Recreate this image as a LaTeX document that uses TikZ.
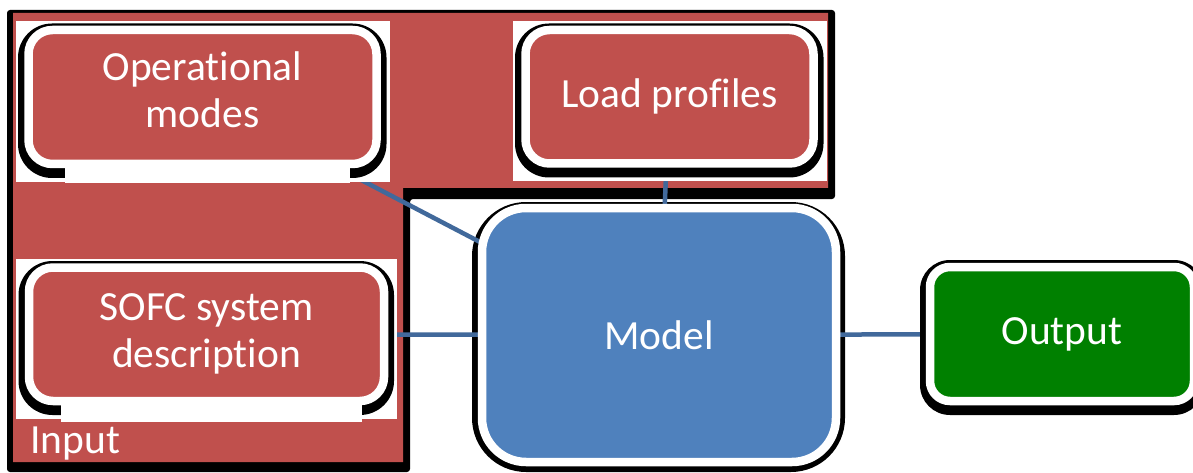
\documentclass[tikz,border=0pt]{standalone}
\usepackage{fontspec}
\setmainfont[Ligatures={NoCommon}]{Carlito}
\usetikzlibrary{calc}

\definecolor{inred}{RGB}{192,80,77}
\definecolor{modelblue}{RGB}{79,129,189}
\definecolor{outgreen}{RGB}{0,128,0}
\definecolor{linkblue}{RGB}{65,105,155}

% drawing order: input panel, model halo, connectors, card plates, cards
\pgfdeclarelayer{base}
\pgfdeclarelayer{halo}
\pgfdeclarelayer{links}
\pgfdeclarelayer{plate}
\pgfsetlayers{base,halo,links,plate,main}

\tikzset{
  bigtext/.style={font=\fontsize{41.5}{47}\selectfont},
  card/.style={rectangle, rounded corners=24pt, draw=white, line width=8.5pt,
    inner sep=0pt, outer sep=0pt, text=white, align=center, bigtext},
  inputcard/.style={card, fill=inred},
  link/.style={draw=linkblue, line width=4.5pt},
}

\begin{document}
\begin{tikzpicture}[x=1pt,y=-1pt]
\useasboundingbox (0,0) rectangle (1193,473);

% cards
\node[inputcard, minimum width=348pt, minimum height=134pt, text depth=14pt] (om) at (202.5,97) {Operational\\modes};
\node[inputcard, minimum width=288pt, minimum height=133.5pt] (lp) at (669.5,96.75) {Load profiles};
\node[inputcard, minimum width=355pt, minimum height=133.5pt] (sofc) at (206.5,334.25) {SOFC system\\description};
\node[card, fill=modelblue, rounded corners=44pt, minimum width=354pt, minimum height=254pt] (model) at (659,335) {Model};
\node[card, fill=outgreen, rounded corners=20pt, minimum width=264pt, minimum height=134pt] (out) at (1062,334) {Output};
\node[anchor=base west, text=white, inner sep=0pt, bigtext] (inlabel) at (30,453) {Input};

% input panel with its dark rim
\begin{pgfonlayer}{base}
  \fill[white] (0,0) rectangle (1193,473);
  \fill[black, rounded corners=3pt] (7,10) -- (835,10) -- (835,199) -- (410,199) -- (410,472) -- (7,472) -- cycle;
  \fill[inred] (13,13) -- (828,13) -- (828,188) -- (403,188) -- (403,462) -- (13,462) -- cycle;
\end{pgfonlayer}

% dark halo around the model card
\begin{pgfonlayer}{halo}
  \fill[black, rounded corners=54pt] ($(model.north west)+(-10,-6)$) rectangle ($(model.south east)+(9,10)$);
\end{pgfonlayer}

% connectors
\begin{pgfonlayer}{links}
  \draw[link] (om) -- (model);
  \draw[link] (lp) -- (model);
  \draw[link] (sofc) -- (model);
  \draw[link] (model) -- (out);
\end{pgfonlayer}

% white plates and dark halos behind the cards
\begin{pgfonlayer}{plate}
  \foreach \c in {om,lp,sofc}{
    \fill[white] ($(\c.north west)+(-13,-9)$) rectangle ($(\c.south east)+(13,18)$);
    \fill[black, rounded corners=34pt] ($(\c.north west)+(-10.5,-6.5)$) rectangle ($(\c.south east)+(10,14)$);
  }
  \fill[white] ($(om.south west)+(36.5,4)$) rectangle ($(om.south east)+(-26.5,19)$);
  \fill[white] ($(sofc.south west)+(32,2)$) rectangle ($(sofc.south east)+(-22,21)$);
  \fill[black, rounded corners=30pt] ($(out.north west)+(-10,-7)$) rectangle ($(out.south east)+(10,14)$);
\end{pgfonlayer}
\end{tikzpicture}
\end{document}
